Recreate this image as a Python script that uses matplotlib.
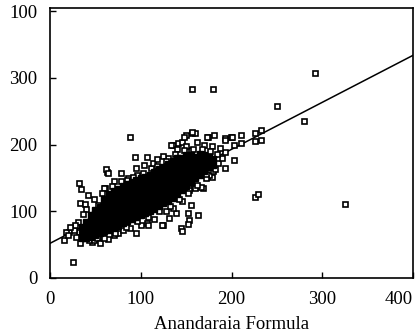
import matplotlib
matplotlib.use('Agg')
import matplotlib.pyplot as plt

plt.rcParams['font.family'] = ['Liberation Serif', 'DejaVu Serif']

# dense core of the cloud, by column: x -> list of y
core_cols = {
    35: [60, 68, 76],
    40: [60, 68, 76, 84],
    45: [62, 70, 78, 86, 94],
    50: [64, 72, 80, 88, 96, 102],
    55: [67, 75, 83, 91, 99, 107],
    60: [70, 78, 86, 94, 102, 110, 118],
    65: [72, 80, 88, 96, 104, 112, 120, 126],
    70: [75, 83, 91, 99, 107, 115, 123, 131],
    75: [78, 86, 94, 102, 110, 118, 126, 134],
    80: [82, 90, 98, 106, 114, 122, 130, 138],
    85: [85, 93, 101, 109, 117, 125, 133, 141],
    90: [88, 96, 104, 112, 120, 128, 136, 144],
    95: [91, 99, 107, 115, 123, 131, 139, 147],
    100: [94, 102, 110, 118, 126, 134, 142, 150],
    105: [97, 105, 113, 121, 129, 137, 145, 152],
    110: [100, 108, 116, 124, 132, 140, 148, 155],
    115: [104, 112, 120, 128, 136, 144, 152, 159],
    120: [108, 116, 124, 132, 140, 148, 156, 163],
    125: [112, 120, 128, 136, 144, 152, 160, 167],
    130: [116, 124, 132, 140, 148, 156, 164, 171],
    135: [120, 128, 136, 144, 152, 160, 168, 176],
    140: [126, 134, 142, 150, 158, 166, 174, 180],
    145: [132, 140, 148, 156, 164, 172, 180],
    150: [138, 146, 154, 162, 170, 178, 184],
    155: [144, 152, 160, 168, 176, 184],
    160: [150, 158, 166, 174, 182],
    165: [155, 163, 171, 179, 186],
    170: [160, 168, 176, 184],
    175: [166, 174, 182],
    180: [170, 178],
}

# scattered points around the core (hollow squares)
pts_x = [25, 15, 21, 32, 29, 33, 46, 43, 48, 32, 34, 42, 33, 39, 31, 53, 61, 63, 62, 64,
         60, 71, 86, 85, 88, 94, 107, 96, 111, 114, 130, 135, 133, 141, 146, 150, 157, 160,
         156, 148, 174, 181, 173, 193, 199, 203, 211, 211, 200, 193, 193, 203, 193, 178,
         175, 169, 155, 166, 153, 153, 142, 155, 152, 153, 163, 139, 131, 124, 144, 146,
         152, 107, 108, 123, 95, 157, 180, 292, 250, 280, 226, 229, 325, 233, 226, 232, 226,
         18, 20, 26, 38, 52, 58, 55, 64, 70, 75, 80, 88, 100, 115, 128, 135, 145, 160, 172,
         180, 185, 190, 187, 178, 170, 162, 150, 140, 125, 118, 104, 95, 78, 70, 57, 48, 40,
         36, 28, 22,
         68, 78, 92, 102, 118, 128, 138, 148, 158, 168, 176, 184,
         60, 72, 84, 96, 108, 120, 132, 142, 152, 162, 172, 182]
pts_y = [24, 57, 69, 69, 61, 52, 54, 57, 57, 142, 133, 124, 112, 111, 84, 109, 135, 159, 163, 157,
         135, 127, 150, 147, 211, 181, 181, 154, 165, 172, 180, 199, 199, 202, 204, 214, 217, 217,
         219, 211, 211, 214, 211, 210, 211, 199, 214, 202, 211, 207, 189, 177, 165, 151,
         154, 135, 192, 136, 135, 132, 132, 109, 97, 87, 94, 97, 90, 79, 75, 70,
         81, 82, 79, 79, 67, 283, 283, 307, 258, 235, 121, 126, 111, 222, 217, 207, 205,
         69, 64, 72, 63, 60, 62, 52, 58, 64, 68, 72, 75, 80, 88, 100, 105, 115, 135, 150,
         160, 172, 180, 195, 198, 200, 204, 198, 194, 183, 178, 170, 165, 157, 145, 128, 118, 104,
         96, 80, 76,
         138, 146, 152, 158, 168, 176, 186, 192, 194, 194, 190, 186,
         60, 68, 76, 86, 92, 100, 108, 118, 128, 140, 156, 164]

# regression line end points
line_x = [0, 400]
line_y = [52, 334]

xticks = [0, 100, 200, 300, 400]
xticklabels = ['0', '100', '200', '300', '400']
yticks = [0, 100, 200, 300, 400]
yticklabels = ['0', '100', '200', '300', '100']

core_x = []
core_y = []
for cx, ys in core_cols.items():
    for cy in ys:
        core_x.append(cx)
        core_y.append(cy)

fig = plt.figure(figsize=(4.16, 3.34), dpi=100)
ax = fig.add_axes([50 / 416, 1 - 278 / 334, 363 / 416, 270 / 334])

ax.plot(line_x, line_y, color='black', lw=1.1, zorder=1)
ax.plot(pts_x, pts_y, ls='none', marker='s', ms=3.6, mfc='white', mec='black', mew=1.2, zorder=2)
ax.plot(core_x, core_y, ls='none', marker='s', ms=4.6, mfc='black', mec='black', mew=1.0, zorder=3)

ax.set_xlim(0, 400)
ax.set_ylim(0, 405)
ax.set_xticks(xticks)
ax.set_xticklabels(xticklabels)
ax.set_yticks(yticks)
ax.set_yticklabels(yticklabels)
ax.tick_params(direction='in', length=4, width=1, labelsize=13.5)
ax.tick_params(axis='x', pad=9)
ax.tick_params(axis='y', pad=9)
ax.get_xticklabels()[-1].set_horizontalalignment('right')
for s in ax.spines.values():
    s.set_linewidth(1.2)
ax.set_xlabel('Anandaraia Formula', fontsize=13.5, labelpad=6)

fig.savefig('out.png', dpi=100)
